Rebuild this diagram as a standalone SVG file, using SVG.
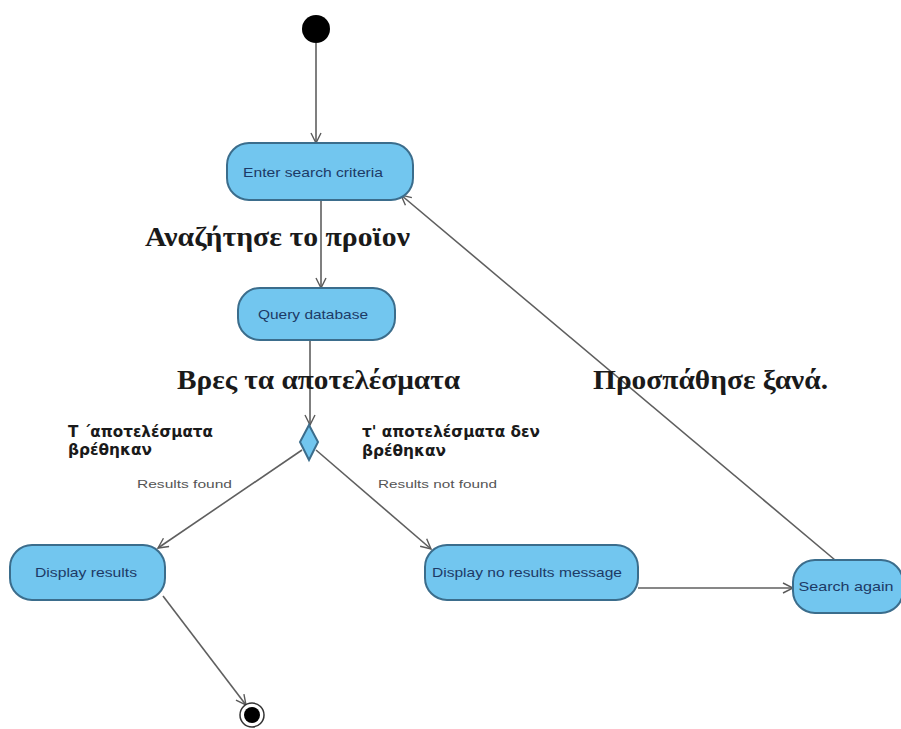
<svg xmlns="http://www.w3.org/2000/svg" width="901" height="729" viewBox="0 0 901 729">
  <defs>
    <marker id="open-arrow" viewBox="0 0 12 12" refX="11" refY="6" markerWidth="12" markerHeight="12" markerUnits="userSpaceOnUse" orient="auto">
      <path d="M1,1 L11,6 L1,11" fill="none" stroke="#5a5a5a" stroke-width="1.4"/>
    </marker>
  </defs>
  <style>
    .state { fill: #72c6ef; stroke: #3b6d8c; stroke-width: 2; }
    .state-label { font-family: "Liberation Sans", Arial, sans-serif; font-size: 13px; fill: #1d3a66; text-anchor: middle; }
    .edge { fill: none; stroke: #5f5f5f; stroke-width: 1.6; marker-end: url(#open-arrow); }
    .action { font-family: "Liberation Serif", "Times New Roman", serif; font-weight: bold; font-size: 27px; fill: #1a1a1a; }
    .guard { font-family: "DejaVu Sans", sans-serif; font-weight: bold; font-size: 15px; fill: #1a1a1a; }
    .cond { font-family: "Liberation Sans", Arial, sans-serif; font-size: 11px; fill: #555; }
  </style>
  <rect width="901" height="729" fill="#ffffff"/>

  <!-- connectors -->
  <g id="connectors">
    <line class="edge" x1="316" y1="43" x2="316" y2="143"/>
    <line class="edge" x1="321" y1="200" x2="321" y2="288"/>
    <line class="edge" x1="310" y1="340" x2="310" y2="425"/>
    <line class="edge" x1="302" y1="450" x2="158" y2="548"/>
    <line class="edge" x1="316" y1="450" x2="431" y2="549"/>
    <line class="edge" x1="163" y1="596" x2="246" y2="705"/>
    <line class="edge" x1="638" y1="588" x2="793" y2="588"/>
    <line class="edge" x1="835" y1="560" x2="401" y2="195"/>
  </g>

  <!-- transition labels -->
  <g id="labels">
    <text class="action" x="145" y="246" textLength="265" lengthAdjust="spacingAndGlyphs">Αναζήτησε το προϊον</text>
    <text class="action" x="177" y="389" textLength="283" lengthAdjust="spacingAndGlyphs">Βρες τα αποτελέσματα</text>
    <text class="action" x="593" y="389" textLength="235" lengthAdjust="spacingAndGlyphs">Προσπάθησε ξανά.</text>
    <text class="guard" x="68" y="437" textLength="145" lengthAdjust="spacingAndGlyphs">Τ ΄αποτελέσματα</text>
    <text class="guard" x="68" y="455" textLength="84" lengthAdjust="spacingAndGlyphs">βρέθηκαν</text>
    <text class="cond" x="137" y="488" textLength="95" lengthAdjust="spacingAndGlyphs">Results found</text>
    <text class="guard" x="362" y="437" textLength="178" lengthAdjust="spacingAndGlyphs">τ' αποτελέσματα δεν</text>
    <text class="guard" x="362" y="456" textLength="84" lengthAdjust="spacingAndGlyphs">βρέθηκαν</text>
    <text class="cond" x="378" y="488" textLength="119" lengthAdjust="spacingAndGlyphs">Results not found</text>
  </g>

  <g id="initial">
    <circle cx="316" cy="29" r="14" fill="#000"/>
  </g>

  <g id="enter-search-criteria">
    <rect class="state" x="227" y="143" width="186" height="57" rx="22"/>
    <text class="state-label" x="313" y="177" textLength="140" lengthAdjust="spacingAndGlyphs">Enter search criteria</text>
  </g>

  <g id="query-database">
    <rect class="state" x="238" y="288" width="157" height="52" rx="22"/>
    <text class="state-label" x="313" y="319" textLength="110" lengthAdjust="spacingAndGlyphs">Query database</text>
  </g>

  <g id="decision">
    <polygon class="state" points="309,425 318,442 309,460 300,442"/>
  </g>

  <g id="display-results">
    <rect class="state" x="10" y="545" width="155" height="55" rx="22"/>
    <text class="state-label" x="86" y="577" textLength="102" lengthAdjust="spacingAndGlyphs">Display results</text>
  </g>

  <g id="display-no-results">
    <rect class="state" x="425" y="545" width="213" height="55" rx="22"/>
    <text class="state-label" x="527" y="577" textLength="190" lengthAdjust="spacingAndGlyphs">Display no results message</text>
  </g>

  <g id="search-again">
    <rect class="state" x="793" y="560" width="110" height="53" rx="22"/>
    <text class="state-label" x="846" y="591" textLength="95" lengthAdjust="spacingAndGlyphs">Search again</text>
  </g>

  <g id="final">
    <circle cx="252" cy="715" r="12" fill="#fff" stroke="#333" stroke-width="1.5"/>
    <circle cx="252" cy="715" r="8" fill="#000"/>
  </g>
</svg>
